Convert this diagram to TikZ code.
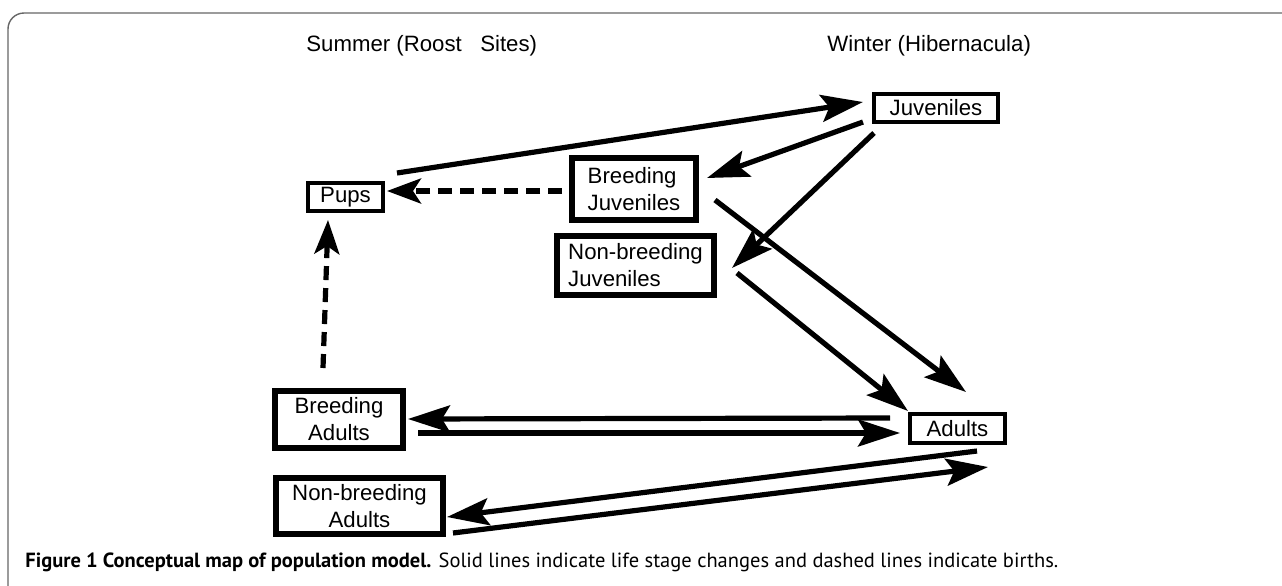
\documentclass[tikz,border=0pt]{standalone}
\usepackage{fontspec}
\setmainfont{Liberation Sans}
\newfontfamily\capfont{PT Sans}
\usetikzlibrary{arrows.meta}

\begin{document}
\begin{tikzpicture}[x=0.5pt, y=-0.5pt,
	stage/.style={draw, line width=3pt, inner sep=0pt, font=\fontsize{11.1}{13.5}\selectfont},
	thinstage/.style={stage, line width=1.8pt},
	change/.style={line width=2.6pt, -{Stealth[length=21pt, width=13.5pt, inset=4pt]}},
	birth/.style={line width=2.6pt, dash pattern=on 7pt off 4pt, -{Stealth[length=17pt, width=12.5pt, inset=4pt]}}]
	\useasboundingbox (0,0) rectangle (1282,585);
	\clip (0,0) rectangle (1282,585);
	\draw [black!60, line width=0.7pt, rounded corners=8] (8,600) -- (8,13) -- (1300,13);
	\node [anchor=base west, inner sep=0pt, font=\fontsize{11.1}{13.5}\selectfont] (summer) at (306,51) {Summer (Roost\ \ \ Sites)};
	\node [anchor=base west, inner sep=0pt, font=\fontsize{11.1}{13.5}\selectfont] (winter) at (827,51) {Winter (Hibernacula)};
	\node [thinstage, minimum width=62.2pt, minimum height=14.2pt] (juv) at (936,108) {Juveniles};
	\node [thinstage, minimum width=37.7pt, minimum height=14.2pt] (pups) at (345.5,197) {Pups};
	\node [stage, minimum width=62pt, minimum height=31pt, align=left] (bjuv) at (634,189) {Breeding\\Juveniles};
	\node [stage, minimum width=78.5pt, minimum height=29.5pt, align=left] (nbjuv) at (635.5,265.5) {Non-breeding\\Juveniles};
	\node [stage, minimum width=64pt, minimum height=28.5pt, align=center] (badults) at (339,419.5) {Breeding\\Adults};
	\node [stage, minimum width=83.5pt, minimum height=28pt, align=center] (nbadults) at (359.5,506) {Non-breeding\\Adults};
	\node [thinstage, minimum width=47.7pt, minimum height=14.7pt] (adults) at (957.5,428.5) {Adults};
	% life stage changes
	\draw [change] ([shift={(12,-8)}]pups.north east) -- ([shift={(-9,-6)}]juv.west);
	\draw [change] ([shift={(-9,-2)}]juv.south west) -- ([shift={(8,-11)}]bjuv.east);
	\draw [change] ([shift={(2,9)}]juv.south west) -- ([shift={(15,2.5)}]nbjuv.east);
	\draw [change] ([shift={(16,11)}]bjuv.east) -- ([shift={(8.5,-20)}]adults.north);
	\draw [change] ([shift={(20,7.5)}]nbjuv.east) -- ([shift={(0,-1)}]adults.north west);
	\draw [change] ([shift={(-18,-10.5)}]adults.west) -- ([shift={(2,-0.5)}]badults.east);
	\draw [change] ([shift={(12,13.5)}]badults.east) -- ([shift={(-8,4.5)}]adults.west);
	\draw [change] ([shift={(19.5,6)}]adults.south) -- ([shift={(1,11)}]nbadults.east);
	\draw [change] ([shift={(7,27)}]nbadults.east) -- ([shift={(30.5,22)}]adults.south);
	% births
	\draw [birth] ([shift={(-7,2)}]bjuv.west) -- ([shift={(2,-6)}]pups.east);
	\draw [birth] ([shift={(-16,-20)}]badults.north) -- ([shift={(-17.5,7)}]pups.south);
	\node [anchor=base west, inner sep=0pt, font=\capfont\fontsize{10.25}{12}\selectfont] (caption) at (25,567) {\textbf{Figure 1 Conceptual map of population model.} Solid lines indicate life stage changes and dashed lines indicate births.};
\end{tikzpicture}
\end{document}
